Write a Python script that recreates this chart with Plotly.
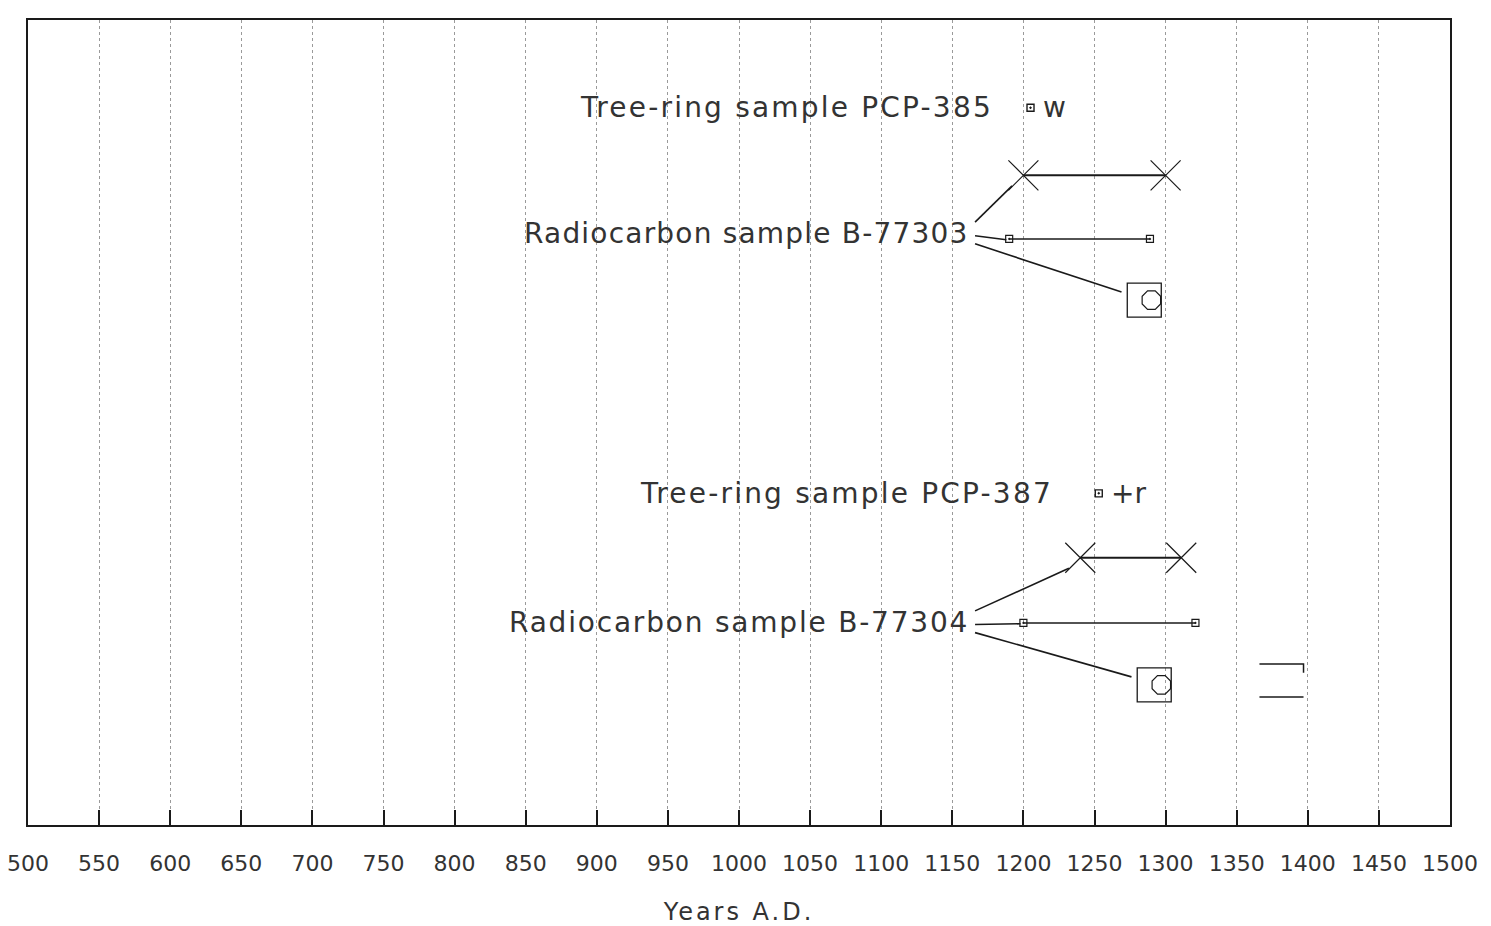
import plotly.graph_objects as go

# ---- data (years A.D.; y = row position on an arbitrary 0-100 scale) ----
tick_years = list(range(500, 1501, 50))
tick_labels = [str(t) for t in tick_years]

# group 1
tr385_year = [1205]
tr385_y = [89.1]
b77303_cross_years = [1200, 1300]
b77303_cross_y = [80.7, 80.7]
b77303_sq_years = [1190, 1289]
b77303_sq_y = [72.8, 72.8]
b77303_box_year = [1285]
b77303_box_y = [65.2]
b77303_label_y = 73.5

# group 2
tr387_year = [1253]
tr387_y = [41.2]
b77304_cross_years = [1240, 1311]
b77304_cross_y = [33.2, 33.2]
b77304_sq_years = [1200, 1321]
b77304_sq_y = [25.1, 25.1]
b77304_box_year = [1292]
b77304_box_y = [17.4]
b77304_label_y = 25.2

# stray bracket mark (lower right)
bracket_years = [1366, 1397, 1397, None, 1366, 1397]
bracket_y = [20.0, 20.0, 18.9, None, 15.9, 15.9]

label_end_year = 1163

INK = "#1a1a1a"
FONT = "DejaVu Sans"
TXT = "#333333"

fig = go.Figure()

def line_trace(xs, ys, width=1.6):
    fig.add_trace(go.Scatter(x=xs, y=ys, mode="lines",
                             line=dict(color=INK, width=width),
                             hoverinfo="skip", showlegend=False))

# connectors from labels to series
for ly, cy, sy, by, cx, sx, bx in [
    (b77303_label_y, b77303_cross_y[0], b77303_sq_y[0], b77303_box_y[0],
     b77303_cross_years[0], b77303_sq_years[0], b77303_box_year[0]),
    (b77304_label_y, b77304_cross_y[0], b77304_sq_y[0], b77304_box_y[0],
     b77304_cross_years[0], b77304_sq_years[0], b77304_box_year[0]),
]:
    line_trace([label_end_year + 3, cx - 8], [ly + 1.4, cy - 1.3])
    line_trace([label_end_year + 3, sx - 2], [ly - 0.3, sy - 0.1])
    line_trace([label_end_year + 3, bx - 16], [ly - 1.3, by + 1.0])

# cross lines
for xs, ys in [(b77303_cross_years, b77303_cross_y), (b77304_cross_years, b77304_cross_y)]:
    fig.add_trace(go.Scatter(x=xs, y=ys, mode="lines+markers",
                             line=dict(color=INK, width=2),
                             marker=dict(symbol="x-thin-open", size=30, color=INK,
                                         line=dict(color=INK, width=1.2)),
                             hoverinfo="skip", showlegend=False))
# small-square lines
for xs, ys in [(b77303_sq_years, b77303_sq_y), (b77304_sq_years, b77304_sq_y)]:
    fig.add_trace(go.Scatter(x=xs, y=ys, mode="lines+markers",
                             line=dict(color=INK, width=1.6),
                             marker=dict(symbol="square-open-dot", size=7, color=INK,
                                         line=dict(color=INK, width=1.2)),
                             hoverinfo="skip", showlegend=False))
# tree-ring markers
for xs, ys in [(tr385_year, tr385_y), (tr387_year, tr387_y)]:
    fig.add_trace(go.Scatter(x=xs, y=ys, mode="markers",
                             marker=dict(symbol="square-open-dot", size=7, color=INK,
                                         line=dict(color=INK, width=1.4)),
                             hoverinfo="skip", showlegend=False))
# box-with-circle markers
for xs, ys in [(b77303_box_year, b77303_box_y), (b77304_box_year, b77304_box_y)]:
    fig.add_trace(go.Scatter(x=xs, y=ys, mode="markers",
                             marker=dict(symbol="square-open", size=34, color=INK,
                                         line=dict(color=INK, width=1.3)),
                             hoverinfo="skip", showlegend=False))
    fig.add_trace(go.Scatter(x=[xs[0] + 5], y=ys, mode="markers",
                             marker=dict(symbol="octagon-open", size=20, color=INK,
                                         line=dict(color=INK, width=1.2)),
                             hoverinfo="skip", showlegend=False))
# bracket
line_trace(bracket_years, bracket_y, width=1.5)


def spaced(s, px=2.2):
    return f'<span style="letter-spacing:{px}px">{s}</span>'


# labels
tf = dict(family=FONT, size=28, color=TXT)
ann = [
    dict(x=tr385_year[0], y=tr385_y[0], text=spaced("Tree-ring sample PCP-385"),
         xanchor="right", xshift=-36, yanchor="middle"),
    dict(x=tr385_year[0], y=tr385_y[0], text="w",
         xanchor="left", xshift=10, yanchor="middle"),
    dict(x=label_end_year, y=b77303_label_y, text=spaced("Radiocarbon sample B-77303", 1.2),
         xanchor="right", yanchor="middle"),
    dict(x=tr387_year[0], y=tr387_y[0], text=spaced("Tree-ring sample PCP-387"),
         xanchor="right", xshift=-44, yanchor="middle"),
    dict(x=tr387_year[0], y=tr387_y[0], text="+r",
         xanchor="left", xshift=10, yanchor="middle"),
    dict(x=label_end_year, y=b77304_label_y, text=spaced("Radiocarbon sample B-77304", 1.8),
         xanchor="right", yanchor="middle"),
]
for a in ann:
    a.update(xref="x", yref="y", showarrow=False, font=tf)

fig.update_layout(
    width=1491, height=926,
    margin=dict(l=20, r=49, t=12, b=109, autoexpand=False),
    paper_bgcolor="white", plot_bgcolor="white",
    annotations=ann,
    showlegend=False,
    xaxis=dict(
        range=[500, 1500], tickvals=tick_years, ticktext=tick_labels,
        ticks="inside", ticklen=15, tickcolor=INK, tickwidth=1.5,
        showgrid=True, gridcolor="#9a9a9a", griddash="dot", gridwidth=1,
        showline=True, linecolor=INK, linewidth=1.5, mirror=True,
        zeroline=False, ticklabelstandoff=18, automargin=False,
        ticklabeloverflow="allow",
        tickfont=dict(family=FONT, size=22, color=TXT),
        title=dict(text=spaced("Years A.D.", 3), standoff=28,
                   font=dict(family=FONT, size=24, color=TXT)),
    ),
    yaxis=dict(
        range=[0, 100], showticklabels=False, ticks="", showgrid=False,
        showline=True, linecolor=INK, linewidth=1.5, mirror=True,
        zeroline=False, automargin=False,
    ),
)

fig.write_html("out.html")
